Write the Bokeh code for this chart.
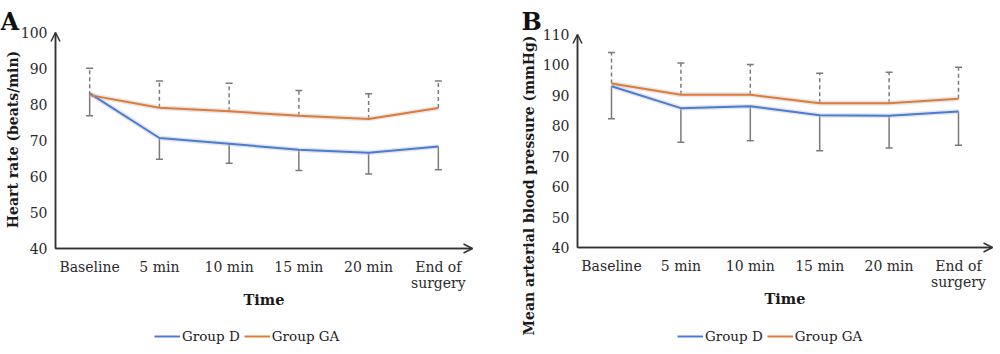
import math
from bokeh.plotting import figure
from bokeh.layouts import row
from bokeh.models import (ColumnDataSource, FixedTicker, Whisker, TeeHead, Arrow,
                          OpenHead, Legend, LegendItem, Range1d, Label)
from bokeh.embed import file_html
from bokeh.resources import INLINE

# ---------------- data ----------------
categories = ["Baseline", "5 min", "10 min", "15 min", "20 min", "End of\nsurgery"]

# Panel A: heart rate (beats/min)
hr_group_d = [83.1, 70.7, 69.1, 67.4, 66.6, 68.3]
hr_group_d_lower = [76.9, 64.8, 63.7, 61.7, 60.7, 61.9]
hr_group_ga = [82.6, 79.1, 78.1, 76.9, 76.0, 79.0]
hr_group_ga_upper = [90.1, 86.5, 85.9, 83.9, 83.0, 86.5]
hr_ticks = [40, 50, 60, 70, 80, 90, 100]

# Panel B: mean arterial blood pressure (mmHg)
map_group_d = [93.0, 85.8, 86.4, 83.5, 83.3, 84.7]
map_group_d_lower = [82.3, 74.6, 75.1, 71.8, 72.7, 73.6]
map_group_ga = [93.9, 90.2, 90.2, 87.4, 87.4, 88.9]
map_group_ga_upper = [104.1, 100.6, 100.1, 97.3, 97.6, 99.2]
map_ticks = [40, 50, 60, 70, 80, 90, 100, 110]

BLUE = "#4a7bd8"
ORANGE = "#e07a3a"
GREY = "#7a7a7a"
AXIS = "#333333"
FONT = "DejaVu Serif"
W, H = 500, 354


def panel(letter, ylabel, d, d_lower, ga, ga_upper, ticks,
          ax_left, ax_right, ax_top, ax_bottom, ylab_x, ylab_y, legend_x, letter_x):
    """ax_* are the pixel positions of the plotting area inside this panel."""
    x = list(range(len(categories)))
    y0, y1 = ticks[0], ticks[-1]
    xa, xb = -0.49, len(categories) - 1 + 0.49
    # pixel -> data scales for a full-canvas frame
    sx = (ax_right - ax_left) / (xb - xa)
    sy = (ax_bottom - ax_top) / (y1 - y0)
    x_range = Range1d(xa - ax_left / sx, xb + (W - ax_right) / sx)
    y_range = Range1d(y0 - (H - ax_bottom) / sy, y1 + ax_top / sy)

    p = figure(output_backend="svg", toolbar_location=None, width=W, height=H,
               min_border=0, x_range=x_range, y_range=y_range,
               background_fill_color="white", border_fill_color="white")
    p.title.visible = False
    p.outline_line_color = None
    p.xgrid.visible = False
    p.ygrid.visible = False

    for ax in (p.xaxis[0], p.yaxis[0]):
        ax.axis_line_color = AXIS
        ax.axis_line_width = 1.5
        ax.major_tick_line_color = None
        ax.minor_tick_line_color = None
        ax.major_tick_out = 0
        ax.major_tick_in = 0
        ax.minor_tick_out = 0
        ax.major_label_text_font = FONT
        ax.major_label_text_font_size = "14px"
        ax.major_label_text_color = "#2a2a2a"
        ax.axis_label_text_font = FONT
        ax.axis_label_text_font_style = "bold"
        ax.axis_label_text_color = "#1a1a1a"

    p.xaxis.fixed_location = y0
    p.xaxis.bounds = (xa, xb)
    p.xaxis.ticker = FixedTicker(ticks=x)
    p.xaxis.major_label_overrides = {i: c for i, c in enumerate(categories)}
    p.xaxis.major_label_standoff = 10
    p.xaxis.major_label_text_line_height = 1.0
    p.xaxis.axis_label = "Time"
    p.xaxis.axis_label_text_font_size = "14.5px"
    p.xaxis.axis_label_standoff = -3

    p.yaxis.fixed_location = xa
    p.yaxis.bounds = (y0, y1)
    p.yaxis.ticker = FixedTicker(ticks=ticks)
    p.yaxis.major_label_standoff = 8

    p.add_layout(Label(x=ylab_x, y=H - ylab_y, x_units="screen", y_units="screen",
                       text=ylabel, angle=math.pi / 2, text_align="center",
                       text_baseline="middle", text_font=FONT,
                       text_font_style="bold", text_font_size="14px",
                       text_color="#1a1a1a"))
    p.add_layout(Label(x=letter_x, y=H - 21,
                       x_units="screen", y_units="screen",
                       text=letter, text_baseline="alphabetic", text_font=FONT,
                       text_font_style="bold", text_font_size="24px",
                       text_color="#111111"))

    # axis arrow heads
    p.add_layout(Arrow(end=OpenHead(size=9, line_width=1.5, line_color=AXIS),
                       x_start=xa, y_start=y0, x_end=xa, y_end=y1,
                       line_color=AXIS, line_width=1.5))
    p.add_layout(Arrow(end=OpenHead(size=9, line_width=1.5, line_color=AXIS),
                       x_start=xa, y_start=y0, x_end=xb, y_end=y0,
                       line_color=AXIS, line_width=1.5))

    src = ColumnDataSource(dict(x=x, d=d, dl=d_lower, ga=ga, gu=ga_upper))

    # soft shadows under lines
    p.line("x", "d", source=src, line_color="#c8c8c8", line_width=5, line_alpha=0.45)
    p.line("x", "ga", source=src, line_color="#c8c8c8", line_width=5, line_alpha=0.45)

    rd = p.line("x", "d", source=src, line_color=BLUE, line_width=2)
    rg = p.line("x", "ga", source=src, line_color=ORANGE, line_width=2)

    p.add_layout(Whisker(source=src, base="x", lower="ga", upper="gu",
                         dimension="height", line_color=GREY, line_width=1.5,
                         line_dash="4 3",
                         upper_head=TeeHead(size=7, line_color=GREY, line_width=1.5),
                         lower_head=None))
    p.add_layout(Whisker(source=src, base="x", lower="dl", upper="d",
                         dimension="height", line_color=GREY, line_width=1.5,
                         lower_head=TeeHead(size=7, line_color=GREY, line_width=1.5),
                         upper_head=None))

    legend = Legend(items=[LegendItem(label="Group D", renderers=[rd]),
                           LegendItem(label="Group GA", renderers=[rg])],
                    orientation="horizontal", location=(legend_x, 10),
                    glyph_width=26, glyph_height=14, label_standoff=2, spacing=4,
                    padding=0, margin=0, border_line_color=None,
                    background_fill_alpha=0, label_text_font=FONT,
                    label_text_font_size="13.5px", label_text_color="#222222")
    p.add_layout(legend, "center")
    return p


pa = panel("A", "Heart rate (beats/min)", hr_group_d, hr_group_d_lower,
           hr_group_ga, hr_group_ga_upper, hr_ticks,
           ax_left=55, ax_right=472, ax_top=32, ax_bottom=248,
           ylab_x=12, ylab_y=139, legend_x=154, letter_x=0)
pb = panel("B", "Mean arterial blood pressure (mmHg)", map_group_d, map_group_d_lower,
           map_group_ga, map_group_ga_upper, map_ticks,
           ax_left=77, ax_right=492, ax_top=34, ax_bottom=247,
           ylab_x=28, ylab_y=185, legend_x=177, letter_x=21)

layout = row(pa, pb)
open("out.html", "w").write(file_html(layout, INLINE))
